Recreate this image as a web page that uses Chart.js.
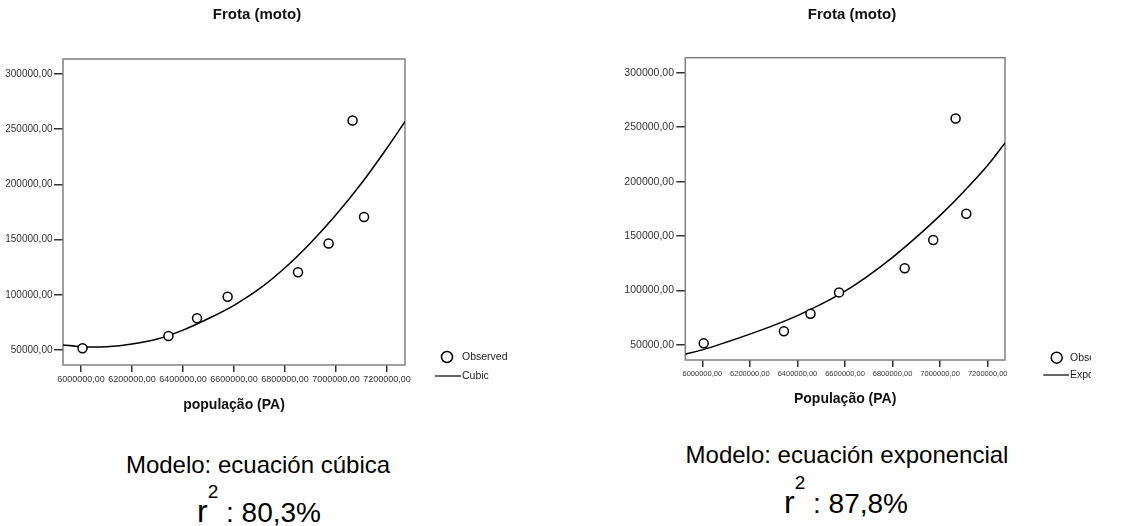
<!DOCTYPE html>
<html>
<head>
<meta charset="utf-8">
<script src="https://cdn.jsdelivr.net/npm/chart.js@4.4.0/dist/chart.umd.min.js"></script>
<style>
  body { margin: 0; background: #fff; width: 1138px; height: 526px; overflow: hidden; position: relative;
         font-family: Arial, "Liberation Sans", sans-serif; color: #000; }
  canvas { position: absolute; top: 0; }
  #cubicChart { left: 0; }
  #expChart { left: 566px; }
  .caption { position: absolute; width: 400px; text-align: center; white-space: nowrap; line-height: 1; }
  .model { font-size: 24px; }
  .r2 { font-size: 28px; }
  .r2 .big { font-size: 32px; }
  .r2 .sup { font-size: 19px; position: relative; top: -24px; }
</style>
</head>
<body>
<canvas id="cubicChart" width="514" height="420"></canvas>
<canvas id="expChart" width="572" height="420"></canvas>

<div class="caption model" style="left:58px; top:453px;">Modelo: ecuación cúbica</div>
<div class="caption r2" style="left:59px; top:495px;"><span class="big">r</span><span class="sup">2</span> : 80,3%</div>
<div class="caption model" style="left:647px; top:443px;">Modelo: ecuación exponencial</div>
<div class="caption r2" style="left:646px; top:486px;"><span class="big">r</span><span class="sup">2</span> : 87,8%</div>

<script>
// dados observados: população (PA) x frota de motos
const populacao = [6006000, 6343000, 6455000, 6575000, 6851000, 6971000, 7065000, 7110000];
const frotaMoto = [51500, 62700, 78700, 98300, 120400, 146400, 257900, 170500];

// curva do modelo cúbico
const cubicX = [5929000, 6000000, 6050000, 6100000, 6200000, 6300000, 6400000, 6500000,
                6600000, 6700000, 6800000, 6900000, 7000000, 7100000, 7200000, 7271000];
const cubicY = [54500, 53000, 52700, 53000, 55500, 60000, 68000, 78500,
                90500, 105500, 124500, 147000, 172500, 201000, 233000, 257000];

// curva do modelo exponencial
const expX = [5929000, 6000000, 6100000, 6200000, 6300000, 6400000, 6500000, 6600000,
              6700000, 6800000, 6900000, 7000000, 7100000, 7200000, 7273000];
const expY = [41500, 45500, 52500, 60000, 68000, 77000, 87500, 99500,
              114000, 130500, 149000, 169000, 191000, 215000, 235500];

const xTickValues = [6000000, 6200000, 6400000, 6600000, 6800000, 7000000, 7200000];
const yTickValues = [50000, 100000, 150000, 200000, 250000, 300000];

const FONT = 'Arial, "Liberation Sans", sans-serif';

function fmt(v) {
  return v.toFixed(2).replace('.', ',');
}

function toPoints(xs, ys) {
  return xs.map((x, i) => ({ x: x, y: ys[i] }));
}

// moldura cinza em volta da área do gráfico
const framePlugin = {
  id: 'frame',
  beforeDatasetsDraw(chart) {
    const { ctx, chartArea: a } = chart;
    ctx.save();
    ctx.strokeStyle = '#808080';
    ctx.lineWidth = 1.5;
    ctx.strokeRect(a.left, a.top, a.right - a.left, a.bottom - a.top);
    ctx.restore();
  }
};

// legenda no estilo SPSS (círculo + linha)
const spssLegend = {
  id: 'spssLegend',
  afterDraw(chart, args, opts) {
    const ctx = chart.ctx;
    const ds = chart.data.datasets;
    ctx.save();
    // a imagem original está cortada na borda direita
    ctx.beginPath();
    ctx.rect(0, 0, opts.clipRight, chart.height);
    ctx.clip();
    ctx.font = opts.fontSize + 'px ' + FONT;
    ctx.fillStyle = '#222';
    ctx.textBaseline = 'middle';
    ctx.strokeStyle = '#000';
    ctx.lineWidth = 1.5;
    ctx.beginPath();
    ctx.arc(opts.circleX, opts.circleY, 5.5, 0, Math.PI * 2);
    ctx.stroke();
    ctx.fillText(ds[0].label, opts.textX, opts.circleY);
    ctx.lineWidth = 1.2;
    ctx.beginPath();
    ctx.moveTo(opts.lineX0, opts.lineY);
    ctx.lineTo(opts.lineX1, opts.lineY);
    ctx.stroke();
    ctx.fillText(ds[1].label, opts.textX, opts.lineY);
    ctx.restore();
  }
};

function makeChart(id, cfg) {
  return new Chart(document.getElementById(id), {
    type: 'scatter',
    data: {
      datasets: [
        {
          label: 'Observed',
          data: toPoints(populacao, frotaMoto),
          pointRadius: 4.5,
          pointBorderWidth: 1.5,
          pointBorderColor: '#000',
          pointBackgroundColor: '#fff',
          showLine: false,
          order: 0
        },
        {
          label: cfg.fitLabel,
          data: toPoints(cfg.fitX, cfg.fitY),
          showLine: true,
          pointRadius: 0,
          borderColor: '#000',
          borderWidth: 1.5,
          cubicInterpolationMode: 'monotone',
          order: 1
        }
      ]
    },
    options: {
      responsive: false,
      animation: false,
      events: [],
      layout: { padding: 0 },
      plugins: {
        legend: { display: false },
        tooltip: { enabled: false },
        title: {
          display: true,
          text: 'Frota (moto)',
          color: '#111',
          font: { family: FONT, size: 15, weight: 'bold' },
          padding: { top: 5.5, bottom: cfg.titleGap }
        },
        spssLegend: cfg.legend
      },
      scales: {
        x: {
          type: 'linear',
          min: cfg.xMin,
          max: cfg.xMax,
          afterFit(scale) { scale.height = cfg.xAxisHeight; },
          afterBuildTicks(scale) { scale.ticks = xTickValues.map(v => ({ value: v })); },
          border: { display: false },
          grid: { drawOnChartArea: false, drawTicks: true, tickLength: 7, color: '#333', lineWidth: 1.5 },
          ticks: {
            autoSkip: false, maxRotation: 0, minRotation: 0,
            padding: 2.5, color: '#333',
            font: { family: FONT, size: cfg.xTickSize },
            callback: v => fmt(v)
          },
          title: {
            display: true,
            text: cfg.xTitle,
            color: '#111',
            font: { family: FONT, size: 14, weight: 'bold' },
            padding: { top: 0, bottom: cfg.xTitlePad }
          }
        },
        y: {
          type: 'linear',
          min: cfg.yMin,
          max: cfg.yMax,
          afterFit(scale) { scale.width = cfg.yAxisWidth; },
          afterBuildTicks(scale) { scale.ticks = yTickValues.map(v => ({ value: v })); },
          border: { display: false },
          grid: { drawOnChartArea: false, drawTicks: true, tickLength: 9, color: '#333', lineWidth: 1.5 },
          ticks: {
            padding: cfg.yTickPad, color: '#333',
            font: { family: FONT, size: cfg.yTickSize },
            callback: v => fmt(v)
          }
        },
        // eixo vazio só para reservar o espaço da legenda à direita
        side: {
          type: 'linear',
          position: 'right',
          afterFit(scale) { scale.width = cfg.sideWidth; },
          border: { display: false },
          grid: { display: false },
          ticks: { display: false }
        }
      }
    },
    plugins: [framePlugin, spssLegend]
  });
}

makeChart('cubicChart', {
  fitLabel: 'Cubic',
  fitX: cubicX,
  fitY: cubicY,
  sideWidth: 109,
  titleGap: 35.5,
  xMin: 5929400, xMax: 7270600,
  yMin: 36400, yMax: 313600,
  xAxisHeight: 55,
  yAxisWidth: 63,
  xTickSize: 9,
  yTickSize: 10,
  yTickPad: 1.5,
  xTitle: 'população (PA)',
  xTitlePad: 6.6,
  legend: { fontSize: 10.5, circleX: 447, circleY: 357, textX: 462, lineX0: 435, lineX1: 461, lineY: 376, clipRight: 514 }
});

makeChart('expChart', {
  fitLabel: 'Exponential',
  fitX: expX,
  fitY: expY,
  sideWidth: 133,
  titleGap: 34.2,
  xMin: 5928500, xMax: 7272700,
  yMin: 36230, yMax: 313770,
  xAxisHeight: 60,
  yAxisWidth: 119.3,
  xTickSize: 7.5,
  yTickSize: 10.5,
  yTickPad: 2.3,
  xTitle: 'População (PA)',
  xTitlePad: 12.6,
  legend: { fontSize: 10.5, circleX: 490.7, circleY: 357.7, textX: 504, lineX0: 477.3, lineX1: 503, lineY: 375, clipRight: 525 }
});
</script>
</body>
</html>
